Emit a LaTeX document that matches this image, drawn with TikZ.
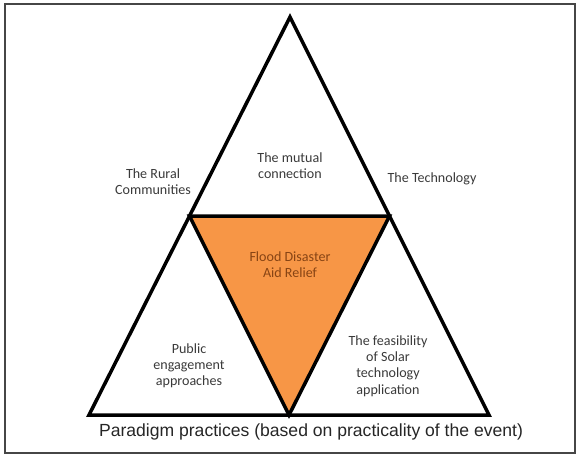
\documentclass[tikz,border=0pt]{standalone}
\usepackage{fontspec}
\setmainfont{Carlito}
\newfontfamily\captionfont{Liberation Sans}
\usepackage{xcolor}
\usepackage{tikz}
\usetikzlibrary{positioning, calc}
\definecolor{floodOrange}{RGB}{247, 150, 70}
\definecolor{floodBrown}{RGB}{135, 68, 20}
\definecolor{labelGray}{RGB}{58, 58, 58}
\definecolor{frameGray}{RGB}{70, 70, 70}

\tikzset{
    paradigmText/.style={text=labelGray, align=center, font=\fontsize{12}{13.8}\selectfont, inner sep=0pt},
    edgeLine/.style={line width=3pt, black}
}

\begin{document}
\begin{tikzpicture}[x=0.3mm, y=-0.3mm]
    \useasboundingbox (0, 0) rectangle (580, 457);
    % Outer frame
    \draw[frameGray, line width=1.2pt] (5, 4) rectangle (575, 453);

    % Corners of the big triangle and its midpoints
    \coordinate (apex) at (290, 17);
    \coordinate (baseL) at (89, 415);
    \coordinate (baseR) at (489, 415);
    \coordinate (midL) at ($(apex)!0.5!(baseL)$);
    \coordinate (midR) at ($(apex)!0.5!(baseR)$);
    \coordinate (midB) at ($(baseL)!0.5!(baseR)$);

    % Centre triangle: Flood relief
    \fill[floodOrange] (midL) -- (midR) -- (midB) -- cycle;
    \draw[edgeLine] (midL) -- (midR) -- (midB) -- cycle;
    \draw[edgeLine] (apex) -- (baseL) -- (baseR) -- cycle;

    % Labels
    \node[paradigmText] (rural) at (153, 182) {The Rural\\Communities};
    \node[paradigmText] (mutual) at (290, 166) {The mutual\\connection};
    \node[paradigmText] (techno) at (432, 179) {The Technology};
    \node[paradigmText, text=floodBrown] (flood) at (290, 265) {Flood Disaster\\Aid Relief};
    \node[paradigmText] (public) at (189, 366) {Public\\engagement\\approaches};
    \node[paradigmText] (solar) at (388, 366) {The feasibility\\of Solar\\technology\\application};

    % Caption
    \node[text=black!85, inner sep=0pt, font=\captionfont\fontsize{15}{17}\selectfont] (caption) at (311, 432)
        {Paradigm practices (based on practicality of the event)};
\end{tikzpicture}
\end{document}
